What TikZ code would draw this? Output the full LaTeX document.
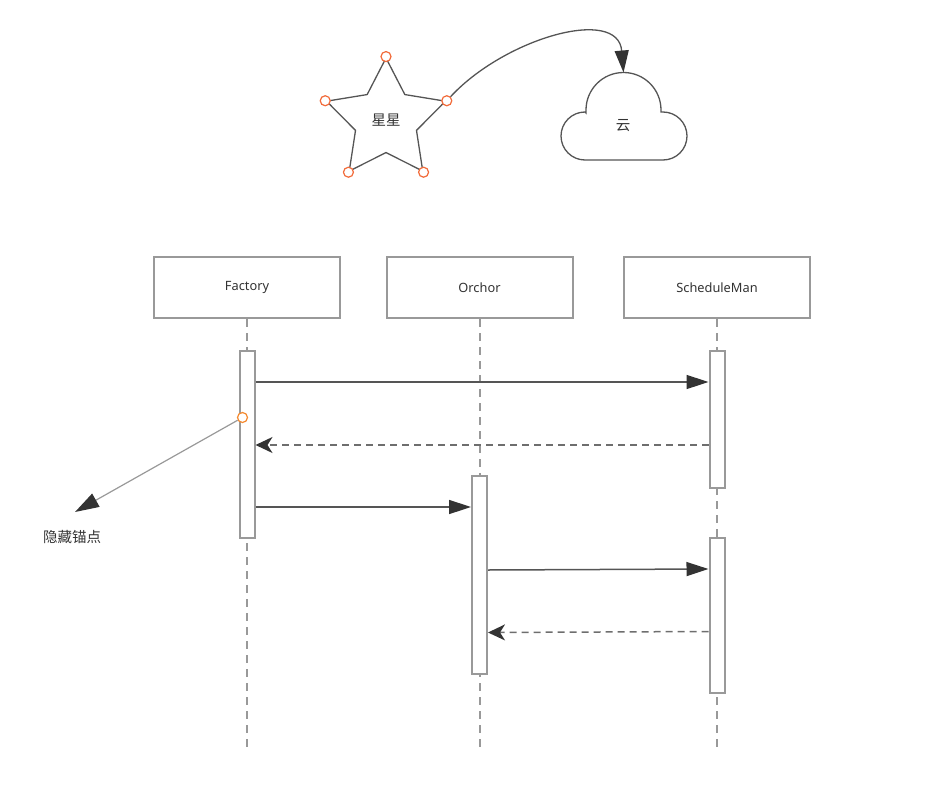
\documentclass[tikz,border=0pt]{standalone}
\usepackage{fontspec}
\setmainfont{Noto Sans}
\newfontfamily\cjk{Noto Sans CJK SC}
\usetikzlibrary{arrows.meta,shapes.geometric}
\definecolor{boxgray}{HTML}{999999}
\definecolor{linegray}{HTML}{555555}
\definecolor{tipgray}{HTML}{333333}
\definecolor{txt}{HTML}{333333}
\definecolor{anch}{HTML}{F26B3A}
\tikzset{
  lifebox/.style={draw=boxgray,line width=2pt,fill=white,minimum width=186pt,minimum height=61pt,inner sep=0pt,text=txt,font=\fontsize{12.8}{15}\selectfont},
  actbar/.style={draw=boxgray,line width=2pt,fill=white,minimum width=15pt,inner sep=0pt},
  lifeline/.style={draw=boxgray,line width=2pt,dash pattern=on 8pt off 6pt},
  msg/.style={draw=linegray,line width=1.5pt,-{Triangle[length=22pt,width=14pt,fill=tipgray,color=tipgray]}},
  ret/.style={draw=linegray!85,line width=1.5pt,dash pattern=on 7pt off 5pt,-{Stealth[length=17pt,width=16pt,inset=5pt,fill=tipgray,color=tipgray]}},
  anchorpt/.style={draw=anch,line width=1.2pt,fill=white,circle,minimum size=10pt,inner sep=0pt},
  shapeline/.style={draw=linegray,line width=1.3pt},
  cjklabel/.style={text=txt,font=\cjk\fontsize{14.5}{16}\selectfont,inner sep=0pt}
}
\begin{document}
\begin{tikzpicture}[x=1pt,y=-1pt]
\useasboundingbox (0,0) rectangle (928,789);
% ---------- star ----------
\node[star,star points=5,star point ratio=1.95,minimum size=125pt,inner sep=0pt,shapeline,fill=white,cjklabel] (star) at (386,120.5) {星星};
\foreach \i/\n in {1/sa,2/sb,3/sc,4/sd,5/se}{
  \node[anchorpt] (\n) at (star.outer point \i) {};
}
% ---------- cloud ----------
\draw[shapeline,fill=white] (586,113) -- (586,110) arc[start angle=180,end angle=360,radius=37.5]
  -- (661,112) -- (663,112) arc[start angle=270,end angle=450,radius=24]
  -- (585,160) arc[start angle=90,end angle=270,radius=24] -- cycle;
\node[cjklabel] (cloud) at (623,126) {云};
\coordinate (cloudtop) at (623.5,72.5);
\draw[shapeline,-{Triangle[length=22pt,width=14pt,fill=tipgray,color=tipgray]}]
  (se) .. controls (505,38) and (618,6) .. (cloudtop);
% ---------- lifeline heads ----------
\node[lifebox] (factory) at (247,287.5) {Factory};
\node[lifebox] (orchor) at (479.5,287.5) {Orchor};
\node[lifebox] (sched) at (717,287.5) {ScheduleMan};
\coordinate (bottom) at (0,748);
\draw[lifeline] (factory.south) -- (factory.south |- bottom);
\draw[lifeline] (orchor.south) -- (orchor.south |- bottom);
\draw[lifeline] (sched.south) -- (sched.south |- bottom);
% ---------- activation bars ----------
\node[actbar,minimum height=187pt] (fa) at (247,444.5) {};
\node[actbar,minimum height=137pt] (s1) at (717,419.5) {};
\node[actbar,minimum height=198pt] (oa) at (479.5,575) {};
\node[actbar,minimum height=155pt] (s2) at (717,615.5) {};
% ---------- messages ----------
\draw[msg] (fa.east |- 0,382) -- (s1.west |- 0,382);
\draw[ret] (s1.west |- 0,445) -- (fa.east |- 0,445);
\draw[msg] (fa.east |- 0,507) -- (oa.west |- 0,507);
\draw[msg] (oa.east |- 0,570) -- (s2.west |- 0,569);
\draw[ret] (s2.west |- 0,631.5) -- (oa.east |- 0,632.5);
% ---------- hidden anchor ----------
\node[anchorpt,draw=anch!80!yellow] (hid) at (242.5,417.5) {};
\node[cjklabel] (hidlabel) at (72,537) {隐藏锚点};
\coordinate (hidtip) at (75,512);
\draw[draw=boxgray,line width=1.2pt,-{Triangle[length=24pt,width=15pt,fill=tipgray,color=tipgray]}] (hid) -- (hidtip);
\end{tikzpicture}
\end{document}
